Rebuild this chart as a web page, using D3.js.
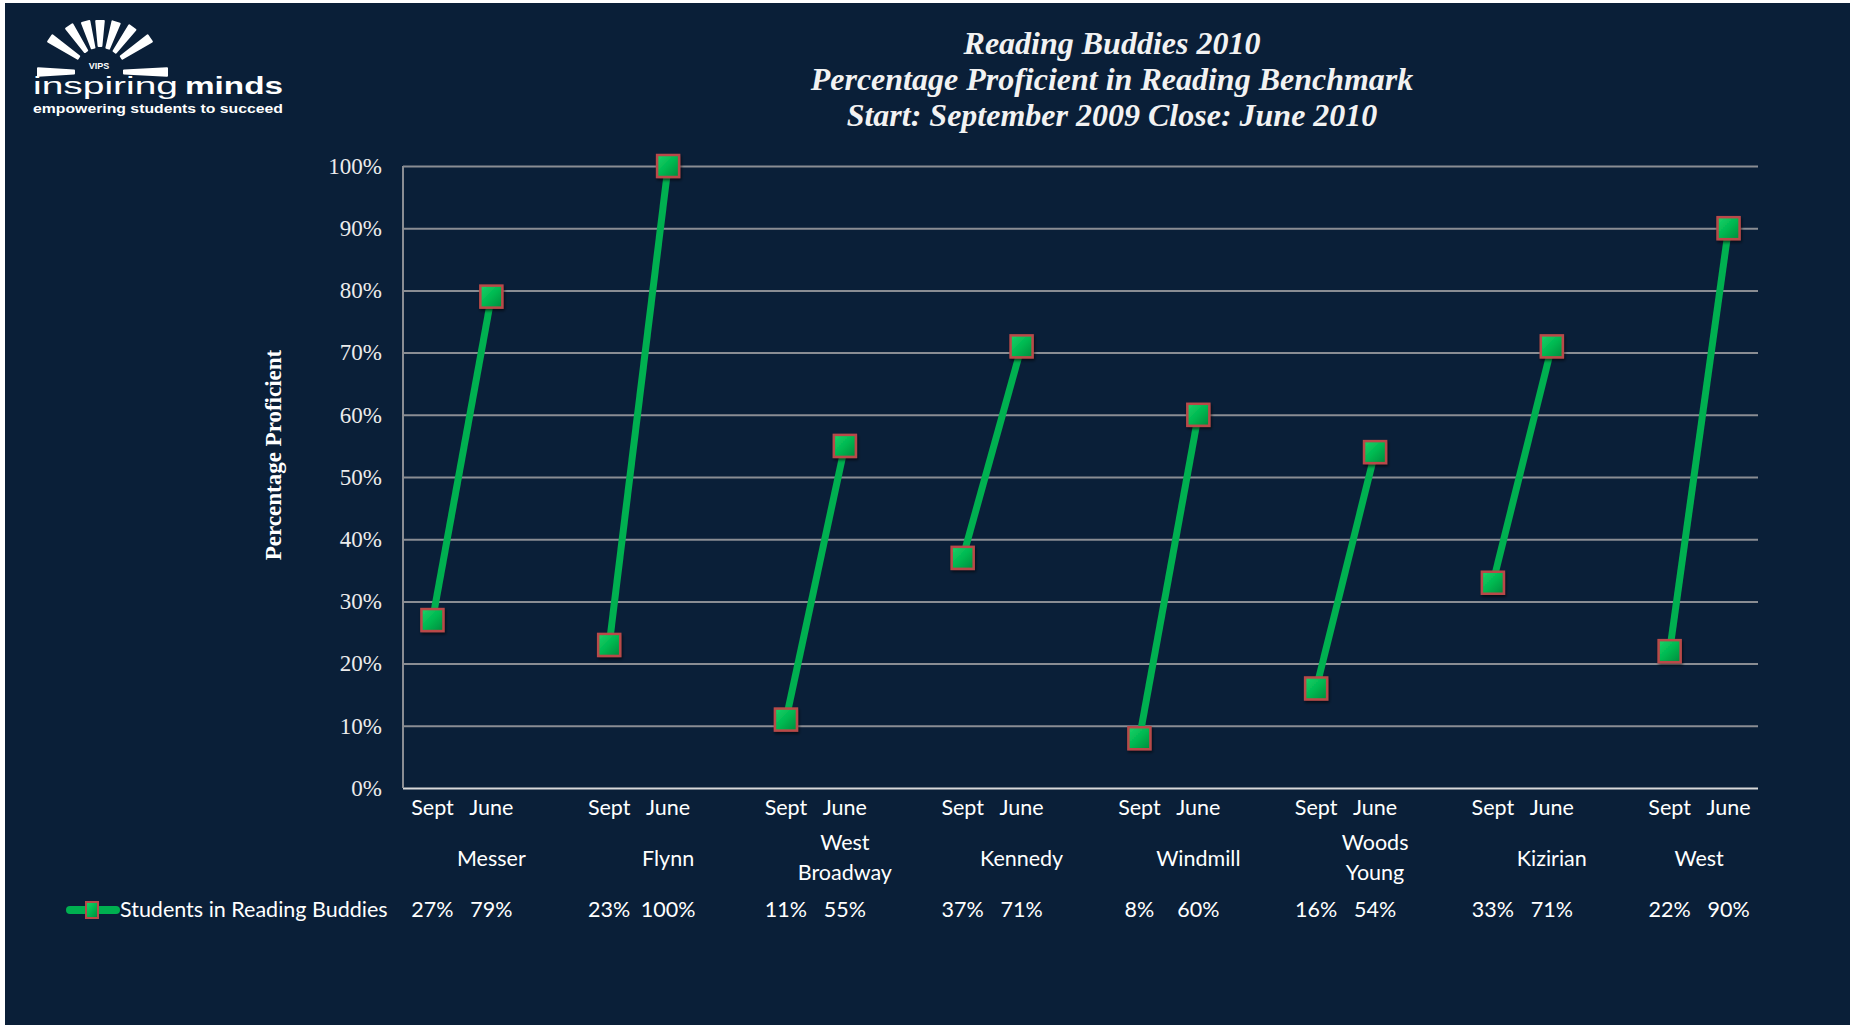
<!DOCTYPE html>
<html>
<head>
<meta charset="utf-8">
<script src="https://cdn.jsdelivr.net/npm/d3@7"></script>
<style>
  body { margin: 0; background: #ffffff; }
  svg { display: block; }
  .y-axis text { font-family: "Liberation Serif", serif; font-size: 23px; fill: #ececec; }
  .x-axis text { font-family: Lato, "Open Sans", sans-serif; font-size: 21.5px; fill: #ffffff; }
  .school, .cell, .legend-label { font-family: Lato, "Open Sans", sans-serif; font-size: 21.5px; fill: #ffffff; }
</style>
</head>
<body>
<svg id="chart"></svg>
<script>
// data
const schools = ["Messer", "Flynn", "West Broadway", "Kennedy", "Windmill", "Woods Young", "Kizirian", "West"];
const periods = ["Sept", "June"];
const septValues = [27, 23, 11, 37, 8, 16, 33, 22];
const juneValues = [79, 100, 55, 71, 60, 54, 71, 90];
const yTicks = [0, 10, 20, 30, 40, 50, 60, 70, 80, 90, 100];
const seriesName = "Students in Reading Buddies";
const titleLines = ["Reading Buddies 2010", "Percentage Proficient in Reading Benchmark", "Start: September 2009 Close: June 2010"];

const width = 1855, height = 1025;
const margin = {top: 166, right: 97, bottom: 237, left: 403};
const innerW = width - margin.left - margin.right;
const innerH = height - margin.top - margin.bottom;

const svg = d3.select("#chart").attr("width", width).attr("height", height);

// white frame + navy panel
svg.append("rect").attr("width", width).attr("height", height).attr("fill", "#ffffff");
svg.append("rect").attr("x", 5).attr("y", 3).attr("width", 1845).attr("height", height - 3).attr("fill", "#0a1f38");

const defs = svg.append("defs");
const grad = defs.append("linearGradient").attr("id", "mk").attr("x1", 0).attr("y1", 0).attr("x2", 1).attr("y2", 1);
grad.append("stop").attr("offset", "0%").attr("stop-color", "#1ad46a");
grad.append("stop").attr("offset", "50%").attr("stop-color", "#00b850");
grad.append("stop").attr("offset", "100%").attr("stop-color", "#008a3c");
const shadow = defs.append("filter").attr("id", "sh").attr("x", "-30%").attr("y", "-30%").attr("width", "160%").attr("height", "160%");
shadow.append("feDropShadow").attr("dx", 1).attr("dy", 2).attr("stdDeviation", 1.5).attr("flood-color", "#000").attr("flood-opacity", 0.6);

// slot layout: Sept, June, gap for each school (no gap after the last)
const slots = [];
schools.forEach((s, i) => {
  slots.push(i + "-Sept", i + "-June");
  if (i < schools.length - 1) slots.push(i + "-gap");
});

const x = d3.scaleBand().domain(slots).range([0, innerW]).padding(0);
const y = d3.scaleLinear().domain([0, 100]).range([innerH, 0]);
const cx = k => x(k) + x.bandwidth() / 2;

const g = svg.append("g").attr("transform", `translate(${margin.left},${margin.top})`);

// gridlines / y axis
const yAxis = d3.axisLeft(y).tickValues(yTicks).tickSize(-innerW).tickPadding(21).tickFormat(d => d + "%");
const yAxisG = g.append("g").attr("class", "y-axis").call(yAxis);
yAxisG.select(".domain").remove();
yAxisG.selectAll(".tick line").attr("stroke", "#8a8d93").attr("stroke-width", 2);
yAxisG.selectAll(".tick").filter(d => d === 0).select("line").attr("stroke", "#d9d9d9");
g.append("line").attr("x1", 0).attr("x2", 0).attr("y1", 0).attr("y2", innerH)
  .attr("stroke", "#8a8d93").attr("stroke-width", 2);

// x axis: Sept / June
const xAxis = d3.axisBottom(x).tickSize(0).tickPadding(12)
  .tickFormat(k => { const p = k.split("-")[1]; return p === "gap" ? "" : p; });
const xAxisG = g.append("g").attr("class", "x-axis").attr("transform", `translate(0,${innerH})`).call(xAxis);
xAxisG.select(".domain").remove();

// school names, centred on their group
schools.forEach((s, i) => {
  const a = x(i + "-Sept");
  const last = i === schools.length - 1 ? x(i + "-June") + x.bandwidth() : x(i + "-gap") + x.bandwidth();
  const mid = (a + last) / 2;
  const words = s.split(" ");
  const t = g.append("text").attr("class", "school").attr("text-anchor", "middle");
  if (words.length === 1) {
    t.append("tspan").attr("x", mid).attr("y", innerH + 78).text(s);
  } else {
    words.forEach((w, j) => t.append("tspan").attr("x", mid).attr("y", innerH + 62 + j * 30).text(w));
  }
});

// data row
const rowY = innerH + 129;
schools.forEach((s, i) => {
  [[septValues[i], "Sept"], [juneValues[i], "June"]].forEach(([v, p]) => {
    g.append("text").attr("class", "cell").attr("text-anchor", "middle")
      .attr("x", cx(i + "-" + p)).attr("y", rowY).text(v + "%");
  });
});

// lines
const pairs = schools.map((s, i) => ({school: s, i, sept: septValues[i], june: juneValues[i]}));
g.selectAll(".seg").data(pairs).join("line").attr("class", "seg")
  .attr("x1", d => cx(d.i + "-Sept")).attr("y1", d => y(d.sept))
  .attr("x2", d => cx(d.i + "-June")).attr("y2", d => y(d.june))
  .attr("stroke", "#00b050").attr("stroke-width", 7);

// markers
const pts = [];
pairs.forEach(d => { pts.push({k: d.i + "-Sept", v: d.sept}); pts.push({k: d.i + "-June", v: d.june}); });
const ms = 22;
g.selectAll(".mk").data(pts).join("rect").attr("class", "mk")
  .attr("x", d => cx(d.k) - ms / 2).attr("y", d => y(d.v) - ms / 2)
  .attr("width", ms).attr("height", ms)
  .attr("fill", "url(#mk)").attr("stroke", "#b94a48").attr("stroke-width", 2.5)
  .attr("filter", "url(#sh)");

// legend key in data row
const ly = margin.top + rowY - 7;
svg.append("line").attr("x1", 70).attr("x2", 116).attr("y1", ly).attr("y2", ly)
  .attr("stroke", "#00b050").attr("stroke-width", 8).attr("stroke-linecap", "round");
svg.append("rect").attr("x", 86).attr("y", ly - 8).attr("width", 12).attr("height", 16)
  .attr("fill", "url(#mk)").attr("stroke", "#b94a48").attr("stroke-width", 2);
svg.append("text").attr("class", "legend-label").attr("x", 120).attr("y", margin.top + rowY).text(seriesName);

// y axis title
svg.append("text").attr("transform", "translate(281,455) rotate(-90)")
  .attr("text-anchor", "middle")
  .style("font-family", "Liberation Serif, serif").style("font-weight", "bold").style("font-size", "23px")
  .style("fill", "#ffffff").text("Percentage Proficient");

// title
svg.append("g").selectAll("text").data(titleLines).join("text")
  .attr("x", 1112).attr("y", (d, i) => 54 + i * 36).attr("text-anchor", "middle")
  .style("font-family", "Liberation Serif, serif").style("font-style", "italic").style("font-weight", "bold")
  .style("font-size", "32px").style("fill", "#f2f2f2").text(d => d);

// logo: tapered rays fanning round "VIPS"
const logo = svg.append("g").attr("fill", "#ffffff");
const lc = [100, 72];
const rays = [[180, 26, 62], [146, 26, 60], [124, 25, 55], [106, 25, 52], [90, 26, 51], [72, 25, 52], [54, 25, 55], [34, 26, 60], [0, 24, 67]];
rays.forEach(([a, r0, r1]) => {
  const rad = a * Math.PI / 180;
  const ux = Math.cos(rad), uy = -Math.sin(rad);
  const px = -uy, py = ux;
  const w0 = 1.4, w1 = 3.8;
  const p = [
    [lc[0] + r0 * ux + w0 * px, lc[1] + r0 * uy + w0 * py],
    [lc[0] + r1 * ux + w1 * px, lc[1] + r1 * uy + w1 * py],
    [lc[0] + r1 * ux - w1 * px, lc[1] + r1 * uy - w1 * py],
    [lc[0] + r0 * ux - w0 * px, lc[1] + r0 * uy - w0 * py]
  ];
  logo.append("path").attr("d", d3.line()(p) + "Z").attr("stroke", "#ffffff").attr("stroke-width", 2).attr("stroke-linejoin", "round");
});
logo.append("text").attr("x", 99).attr("y", 69).attr("text-anchor", "middle")
  .style("font-family", "Liberation Sans, sans-serif").style("font-weight", "bold").style("font-size", "9px").text("VIPS");
logo.append("text").attr("x", 33).attr("y", 94).attr("textLength", 145).attr("lengthAdjust", "spacingAndGlyphs")
  .style("font-family", "Liberation Sans, sans-serif").style("font-size", "23px").text("inspiring");
logo.append("text").attr("x", 185).attr("y", 94).attr("textLength", 98).attr("lengthAdjust", "spacingAndGlyphs")
  .style("font-family", "Liberation Sans, sans-serif").style("font-weight", "bold").style("font-size", "23px").text("minds");
logo.append("text").attr("x", 33).attr("y", 113).attr("textLength", 250).attr("lengthAdjust", "spacingAndGlyphs")
  .style("font-family", "Liberation Sans, sans-serif").style("font-weight", "bold").style("font-size", "13px")
  .text("empowering students to succeed");
</script>
</body>
</html>
